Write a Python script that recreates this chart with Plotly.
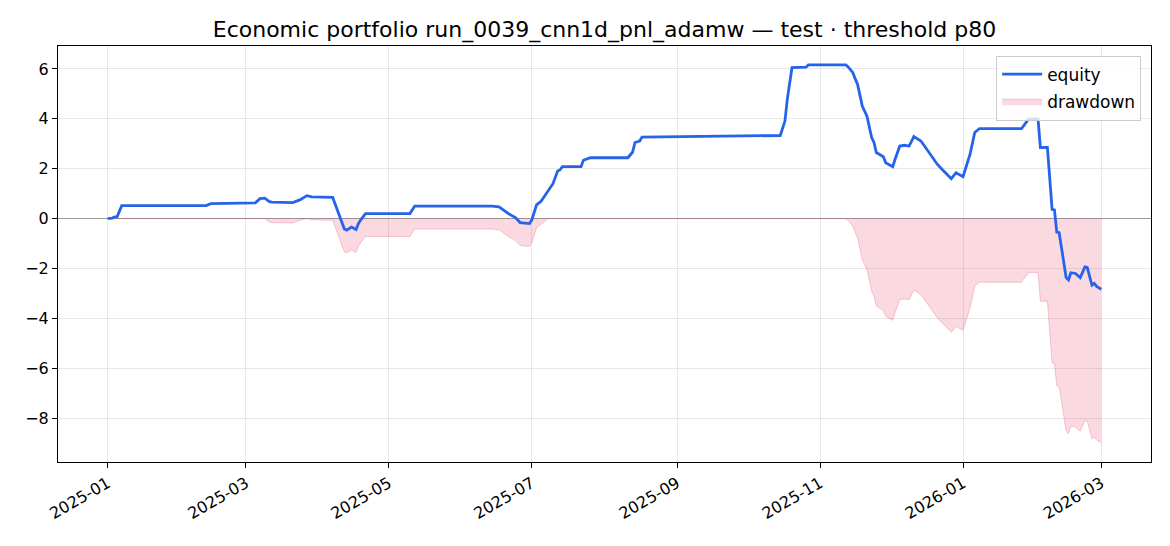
import numpy as np
import pandas as pd
import plotly.graph_objects as go

# equity curve, one point per visible change of slope
dates = [
    "2025-01-01", "2025-01-03", "2025-01-04", "2025-01-05", "2025-01-07",
    "2025-02-12", "2025-02-14", "2025-03-05", "2025-03-07", "2025-03-09",
    "2025-03-11", "2025-03-12", "2025-03-21", "2025-03-24", "2025-03-27",
    "2025-03-29", "2025-04-07", "2025-04-08", "2025-04-09", "2025-04-10",
    "2025-04-12", "2025-04-13", "2025-04-14", "2025-04-15", "2025-04-17",
    "2025-04-18", "2025-04-19", "2025-04-21", "2025-05-10", "2025-05-12",
    "2025-06-14", "2025-06-17", "2025-06-21", "2025-06-24", "2025-06-26",
    "2025-06-28", "2025-06-30", "2025-07-01", "2025-07-03", "2025-07-05",
    "2025-07-08", "2025-07-10", "2025-07-12", "2025-07-13", "2025-07-14",
    "2025-07-22", "2025-07-23", "2025-07-25", "2025-07-26", "2025-08-11",
    "2025-08-13", "2025-08-14", "2025-08-16", "2025-08-17", "2025-09-20",
    "2025-10-01", "2025-10-15", "2025-10-17", "2025-10-18", "2025-10-20",
    "2025-10-26", "2025-10-27", "2025-11-12", "2025-11-13", "2025-11-15",
    "2025-11-16", "2025-11-17", "2025-11-19", "2025-11-21", "2025-11-23",
    "2025-11-24", "2025-11-25", "2025-11-28", "2025-11-29", "2025-12-02",
    "2025-12-03", "2025-12-05", "2025-12-07", "2025-12-09", "2025-12-11",
    "2025-12-14", "2025-12-16", "2025-12-19", "2025-12-21", "2025-12-23",
    "2025-12-25", "2025-12-27", "2025-12-29", "2025-12-31", "2026-01-01",
    "2026-01-04", "2026-01-06", "2026-01-08", "2026-01-26", "2026-01-29",
    "2026-02-02", "2026-02-03", "2026-02-06", "2026-02-08", "2026-02-09",
    "2026-02-10", "2026-02-11", "2026-02-14", "2026-02-15", "2026-02-16",
    "2026-02-18", "2026-02-20", "2026-02-22", "2026-02-23", "2026-02-25",
    "2026-02-26", "2026-02-27", "2026-03-01",
]
equity = [
    0.00, 0.02, 0.07, 0.07, 0.52,
    0.52, 0.60, 0.63, 0.80, 0.82,
    0.68, 0.66, 0.64, 0.75, 0.92,
    0.87, 0.85, 0.60, 0.37, 0.10,
    -0.42, -0.46, -0.40, -0.34, -0.44,
    -0.20, -0.05, 0.20, 0.20, 0.50,
    0.50, 0.47, 0.20, 0.04, -0.16,
    -0.19, -0.20, -0.05, 0.55, 0.70,
    1.10, 1.40, 1.91, 1.95, 2.08,
    2.08, 2.34, 2.40, 2.44, 2.44,
    2.67, 3.05, 3.11, 3.27, 3.30,
    3.33, 3.33, 3.91, 4.78, 6.05,
    6.07, 6.16, 6.16, 6.08, 5.85,
    5.60, 5.38, 4.51, 4.11, 3.25,
    3.05, 2.65, 2.48, 2.24, 2.08,
    2.38, 2.91, 2.94, 2.91, 3.29,
    3.11, 2.85, 2.44, 2.18, 1.98,
    1.78, 1.60, 1.84, 1.74, 1.68,
    2.58, 3.45, 3.61, 3.61, 4.00,
    4.00, 2.85, 2.85, 0.37, 0.35,
    -0.54, -0.56, -2.37, -2.46, -2.17,
    -2.20, -2.37, -1.94, -1.96, -2.67,
    -2.60, -2.72, -2.83,
]

x = pd.to_datetime(dates)
eq = np.array(equity)
drawdown = eq - np.maximum.accumulate(eq)

FONT = "DejaVu Sans"

fig = go.Figure()
fig.add_trace(go.Scatter(
    x=x, y=drawdown, name="drawdown", mode="lines",
    fill="tozeroy", fillcolor="rgba(225,29,72,0.17)",
    line=dict(color="rgba(225,29,72,0.22)", width=1),
    legendrank=2, legendgroup="dd",
))
fig.add_trace(go.Scatter(
    x=x, y=eq, name="equity", mode="lines",
    line=dict(color="#2563eb", width=2.8),
    legendrank=1, legendgroup="eq",
))

axis_common = dict(
    showline=True, linecolor="black", linewidth=1, mirror=True,
    ticks="outside", ticklen=5, tickcolor="black", tickwidth=1,
    showgrid=True, gridcolor="rgba(0,0,0,0.09)", gridwidth=1,
    tickfont=dict(family=FONT, size=16, color="black"),
)

fig.update_layout(
    width=1170, height=546,
    margin=dict(l=58, r=19, t=46, b=84),
    paper_bgcolor="white", plot_bgcolor="white",
    font=dict(family=FONT, size=16, color="black"),
    title=dict(
        text="Economic portfolio run_0039_cnn1d_pnl_adamw — test · threshold p80",
        x=0.5, xref="paper", xanchor="center",
        y=1 - 29 / 546, yref="container", yanchor="middle",
        font=dict(family=FONT, size=22, color="black"),
    ),
    xaxis=dict(
        axis_common,
        type="date",
        range=["2024-12-10 19:00", "2026-03-22 05:00"],
        tick0="2025-01-01", dtick="M2", tickformat="%Y-%m",
        tickangle=-30,
    ),
    yaxis=dict(
        axis_common,
        range=[-9.76, 6.92],
        tick0=0, dtick=2,
        zeroline=True, zerolinecolor="#9a9a9a", zerolinewidth=1,
    ),
    legend=dict(
        x=0.991, y=0.977, xanchor="right", yanchor="top",
        bgcolor="rgba(255,255,255,0.8)", bordercolor="#cccccc", borderwidth=1,
        font=dict(family=FONT, size=17, color="black"),
        traceorder="grouped", tracegroupgap=2, itemwidth=40,
    ),
    showlegend=True,
)

fig.write_html(
    "out.html",
    config={"displayModeBar": False},
    post_script="document.body.style.margin = '0';",
)
